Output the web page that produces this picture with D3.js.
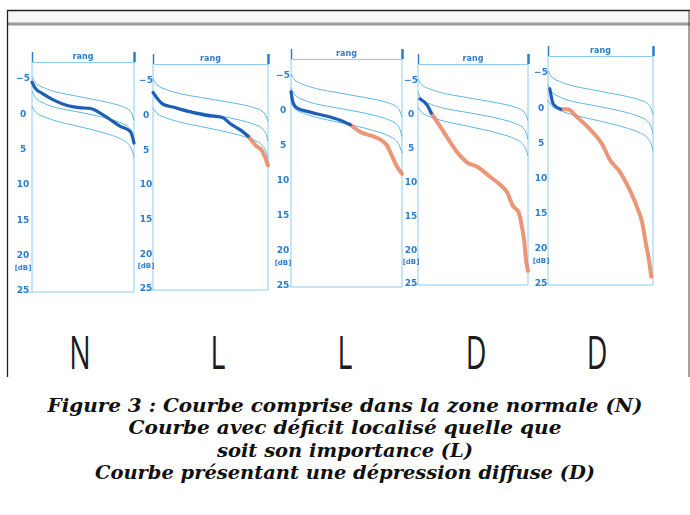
<!DOCTYPE html>
<html><head><meta charset="utf-8">
<script src="https://cdn.jsdelivr.net/npm/d3@7"></script>
<style>
body{margin:0;background:#fff}
.cap{font-family:"DejaVu Serif Condensed","Liberation Serif","Times New Roman",serif;font-style:italic;font-weight:bold}
</style>
</head><body><svg id="fig" width="690" height="515"></svg>
<script>
// Bebie cumulative defect curves: five examples with the normal band
const classLabels = ["N", "L", "L", "D", "D"];
const dbTicks = [-5, 0, 5, 10, 15, 20, 25];
const rankTicks = [1, 59];

// normal band (upper limit, median, lower limit) by rank, in dB
const normalRanks  = [1, 3, 8, 15, 25, 35, 45, 52, 56, 58, 59];
const normalUpper  = [-5.2, -4.3, -3.6, -3.0, -2.5, -2.0, -1.5, -1.0, -0.5, 0.2, 1.0];
const normalMedian = [-3.2, -2.2, -1.4, -0.8, -0.3, 0.2, 0.8, 1.4, 2.0, 2.8, 3.8];
const normalLower  = [-1.0, -0.2, 0.5, 1.1, 1.7, 2.3, 3.0, 3.7, 4.4, 5.3, 6.2];

// patient curves: [rank, defect dB]
const curveN  = [[1,-4.4],[3,-3.5],[7,-2.8],[14,-1.8],[21,-1.1],[28,-0.8],[34,-0.7],[40,0.0],[45,0.8],[51,1.8],[57,2.6],[59,4.2]];
const curveL1 = [[1,-3.2],[6,-1.5],[11,-1.1],[20,-0.4],[28,0.1],[36,0.4],[40,1.3],[45,2.2],[49,3.1],[53,4.5],[56,5.2],[58,6.5],[59,7.3]];
const curveL2 = [[1,-2.6],[2,-1.1],[4,-0.3],[11,0.3],[20,0.9],[28,1.6],[32,2.1],[37,3.1],[46,4.0],[51,5.0],[54,6.7],[56,7.9],[59,9.1]];
const curveD1 = [[2,-2.2],[6,-1.2],[8,-0.1],[13,2.0],[18,4.2],[22,5.8],[27,7.2],[32,7.8],[39,9.3],[44,10.4],[48,11.6],[51,13.6],[54,14.5],[56,17.0],[57,18.8],[58,21.7],[59,23.2]];
const curveD2 = [[2,-2.6],[4,-0.4],[8,0.3],[12,0.3],[17,1.4],[24,3.1],[31,5.3],[35,7.4],[41,9.3],[46,11.7],[50,14.1],[53,16.4],[55,19.3],[57,22.1],[58,24.1]];
// rank from which each curve leaves the normal band
const outsideFrom = [59, 49, 32, 8, 8];

const curves = [curveN, curveL1, curveL2, curveD1, curveD2];

const captionLines = [
  "Figure 3 : Courbe comprise dans la zone normale (N)",
  "Courbe avec déficit localisé quelle que",
  "soit son importance (L)",
  "Courbe présentant une dépression diffuse (D)"
];

// layout of the five small plots
const panels = [
  {left: 32,  right: 134, labelX: 23,  yTop: 78, yBot: 290},
  {left: 153, right: 268, labelX: 146, yTop: 80, yBot: 288},
  {left: 291, right: 402, labelX: 283, yTop: 75, yBot: 285},
  {left: 418, right: 528, labelX: 411, yTop: 80, yBot: 283},
  {left: 548, right: 653, labelX: 541, yTop: 72, yBot: 283}
];

const axisBlue = "#8ccdf0", bandBlue = "#5fb6e6", labelBlue = "#2f7dcc",
      curveBlue = "#1e5fb4", curveOrange = "#e8845e";

const svg = d3.select("#fig");
svg.append("rect").attr("width", 690).attr("height", 515).attr("fill", "#fff");

const defs = svg.append("defs");
defs.append("filter").attr("id", "soft").attr("x", "-5%").attr("y", "-5%")
  .attr("width", "110%").attr("height", "110%")
  .append("feGaussianBlur").attr("stdDeviation", 0.6);

// frame
svg.append("rect").attr("x", 7).attr("y", 10).attr("width", 683).attr("height", 14).attr("fill", "#f6f6f6");
svg.append("line").attr("x1", 7).attr("x2", 690).attr("y1", 10.5).attr("y2", 10.5).attr("stroke", "#222").attr("stroke-width", 1.3);
svg.append("line").attr("x1", 7).attr("x2", 690).attr("y1", 24).attr("y2", 24).attr("stroke", "#9a9a9a").attr("stroke-width", 3);
svg.append("line").attr("x1", 7.5).attr("x2", 7.5).attr("y1", 10).attr("y2", 377).attr("stroke", "#222").attr("stroke-width", 1.3);
svg.append("line").attr("x1", 689).attr("x2", 689).attr("y1", 10).attr("y2", 377).attr("stroke", "#444").attr("stroke-width", 1);

const plots = svg.append("g").attr("filter", "url(#soft)");

panels.forEach((p, i) => {
  const g = plots.append("g");
  const x = d3.scaleLinear().domain([1, 59]).range([p.left, p.right]);
  const y = d3.scaleLinear().domain([-5, 25]).range([p.yTop, p.yBot]);
  const topY = p.yTop - 16;

  // panel edges
  [p.left, p.right].forEach(xx => {
    g.append("line").attr("x1", xx).attr("x2", xx).attr("y1", topY).attr("y2", p.yBot + 2)
      .attr("stroke", axisBlue).attr("stroke-width", 1);
  });
  g.append("line").attr("x1", p.labelX - 5).attr("x2", p.right).attr("y1", p.yBot + 2).attr("y2", p.yBot + 2)
    .attr("stroke", axisBlue).attr("stroke-width", 1.2);

  // rank axis on top
  const top = g.append("g").attr("transform", `translate(0,${topY})`)
    .call(d3.axisTop(x).tickValues(rankTicks).tickSize(10).tickSizeOuter(0).tickFormat(""));
  top.select(".domain").attr("stroke", axisBlue).attr("stroke-width", 1.2);
  top.selectAll(".tick line").attr("stroke", labelBlue).attr("stroke-width", (d) => d === 59 ? 2.5 : 1.5);
  g.append("text").attr("x", (p.left + p.right) / 2).attr("y", topY - 3)
    .attr("text-anchor", "middle").attr("font-family", "DejaVu Sans, sans-serif")
    .attr("font-size", 8).attr("font-weight", "bold").attr("fill", labelBlue).text("rang");

  // dB axis labels
  const left = g.append("g").attr("transform", `translate(${p.labelX},0)`)
    .call(d3.axisLeft(y).tickValues(dbTicks).tickSize(0).tickPadding(0));
  left.select(".domain").remove();
  left.selectAll("text").attr("x", 0).attr("text-anchor", "middle")
    .attr("font-family", "DejaVu Sans, sans-serif").attr("font-size", 9)
    .attr("font-weight", "bold").attr("fill", labelBlue);
  g.append("text").attr("x", p.labelX).attr("y", y(21.8)).attr("dy", "0.32em")
    .attr("text-anchor", "middle").attr("font-family", "DejaVu Sans, sans-serif")
    .attr("font-size", 7).attr("font-weight", "bold").attr("fill", labelBlue).text("[dB]");

  // normal band
  const line = d3.line().x(d => x(d[0])).y(d => y(d[1])).curve(d3.curveMonotoneX);
  [normalUpper, normalMedian, normalLower].forEach(vals => {
    g.append("path").datum(normalRanks.map((r, k) => [r, vals[k]]))
      .attr("d", line).attr("fill", "none").attr("stroke", bandBlue).attr("stroke-width", 1);
  });

  // patient curve: inside band in blue, outside in orange
  const c = curves[i];
  const split = outsideFrom[i];
  const inside = c.filter(d => d[0] <= split);
  const outside = c.filter(d => d[0] >= split);
  if (outside.length > 1) {
    g.append("path").datum(outside).attr("d", line).attr("fill", "none")
      .attr("stroke", curveOrange).attr("stroke-width", 4).attr("stroke-linecap", "round")
      .attr("stroke-linejoin", "round").attr("opacity", 0.85);
  }
  if (inside.length > 1) {
    g.append("path").datum(inside).attr("d", line).attr("fill", "none")
      .attr("stroke", curveBlue).attr("stroke-width", 3.2).attr("stroke-linecap", "round")
      .attr("stroke-linejoin", "round");
  }

  // class letter under the plot
  const cx = [80, 218, 345, 476, 597][i];
  svg.append("text").attr("transform", `translate(${cx},369) scale(0.62,1)`)
    .attr("text-anchor", "middle").attr("font-family", "Open Sans, sans-serif")
    .attr("font-size", 46).attr("fill", "#1c1c1c").text(classLabels[i]);
});

// caption
const capY = [412, 434, 457, 479];
const capW = [595, 433, 256, 500];
captionLines.forEach((t, k) => {
  svg.append("text").attr("class", "cap").attr("x", 345).attr("y", capY[k]).attr("text-anchor", "middle")
    .attr("font-size", 18.5)
    .attr("textLength", capW[k]).attr("lengthAdjust", "spacingAndGlyphs")
    .attr("fill", "#111").text(t);
});
</script>
</body></html>
